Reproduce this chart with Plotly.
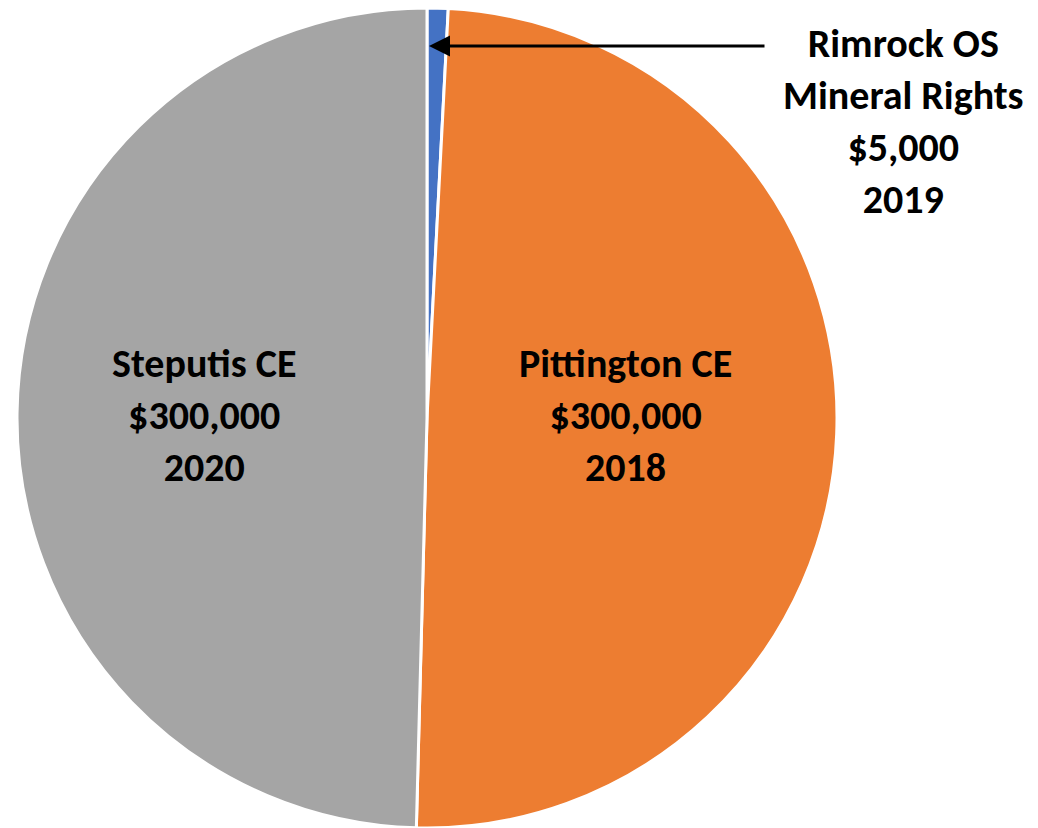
import plotly.graph_objects as go

names = ["Rimrock OS<br>Mineral Rights", "Pittington CE", "Steputis CE"]
values = [5000, 300000, 300000]
years = ["2019", "2018", "2020"]
colors = ["#4472C4", "#ED7D31", "#A5A5A5"]

W, H = 1038, 828
FONT = "Carlito, Calibri, Lato, sans-serif"

fig = go.Figure(go.Pie(
    labels=[n.replace("<br>", " ") for n in names],
    values=values,
    sort=False,
    direction="clockwise",
    rotation=0,
    marker=dict(colors=colors, line=dict(color="white", width=3)),
    textinfo="none",
    hoverinfo="label+value",
    showlegend=False,
    domain=dict(x=[17 / W, 837 / W], y=[0, 820 / H]),
))

def label(i):
    return f"<b>{names[i]}<br>${values[i]:,}<br>{years[i]}</b>"

# text annotations (layout positions in paper coordinates)
pos = [(903, 122), (625, 415), (204, 415)]
for i, (px, py) in enumerate(pos):
    fig.add_annotation(
        x=px / W, y=1 - py / H, xref="paper", yref="paper",
        xanchor="center", yanchor="middle",
        text=label(i), showarrow=False, align="center",
        font=dict(family=FONT, size=40, color="black"),
    )

# leader arrow to the small slice
fig.add_annotation(
    x=429 / W, y=1 - 46 / H, xref="paper", yref="paper",
    ax=766 - 429, ay=0, text="", showarrow=True,
    arrowhead=2, arrowsize=1.4, arrowwidth=3, arrowcolor="black",
)

fig.update_layout(
    width=W, height=H,
    margin=dict(l=0, r=0, t=0, b=0),
    paper_bgcolor="white", plot_bgcolor="white",
)

fig.write_html(
    "out.html",
    config={"displayModeBar": False},
    post_script="document.body.style.margin='0';document.body.style.overflow='hidden';",
)
